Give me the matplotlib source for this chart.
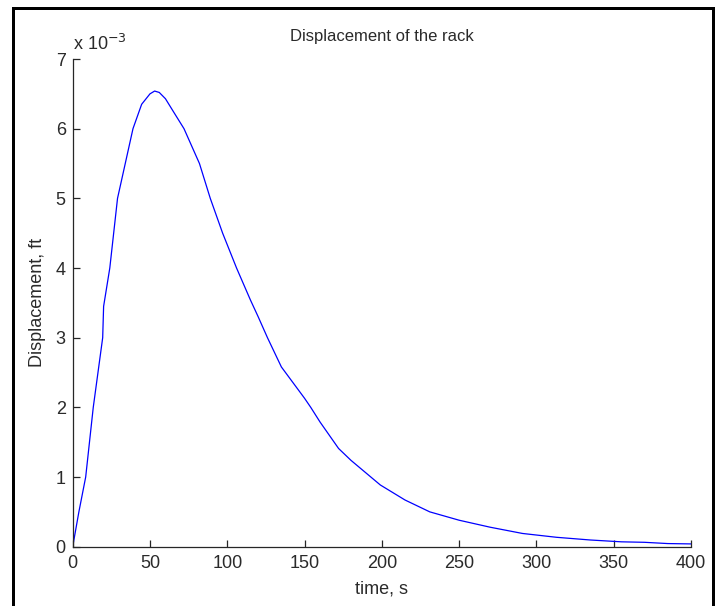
import matplotlib
matplotlib.use("Agg")
import matplotlib.pyplot as plt
from matplotlib.lines import Line2D

# time (s) and displacement (units of 1e-3 ft)
time_s = [0, 4, 8.4, 13.3, 19.4, 20, 24, 29, 34, 39, 44.6, 50, 53, 56, 60, 65,
          72, 82, 89, 97, 106, 115, 120, 126, 135, 150, 154, 160, 172, 180,
          199, 215, 231, 250, 270, 291, 313, 335, 355, 370, 385, 400]
disp_e3 = [0, 0.5, 1.0, 2.0, 3.0, 3.45, 4.0, 5.0, 5.5, 6.0, 6.35, 6.5, 6.54, 6.52,
           6.43, 6.25, 6.0, 5.5, 5.0, 4.5, 4.0, 3.54, 3.3, 3.0, 2.58, 2.13, 2.0,
           1.79, 1.41, 1.24, 0.886, 0.67, 0.5, 0.38, 0.28, 0.19, 0.135, 0.096,
           0.07, 0.063, 0.045, 0.04]

x_ticks = [0, 50, 100, 150, 200, 250, 300, 350, 400]
y_ticks = [0, 1, 2, 3, 4, 5, 6, 7]

FONT = ["Liberation Sans", "DejaVu Sans"]
plt.rcParams["font.family"] = FONT
FS = 13
TXT = "#2a2a2a"

W, H = 718, 606
fig = plt.figure(figsize=(W / 100, H / 100), dpi=100)
fig.patch.set_facecolor("white")

ax = fig.add_axes([72.7 / W, (H - 546.7) / H, (691 - 72.7) / W, (546.7 - 59) / H])
ax.plot(time_s, disp_e3, color="#0000ff", lw=0.9)
ax.set_xlim(0, 400)
ax.set_ylim(0, 7)
ax.set_xticks(x_ticks)
ax.set_yticks(y_ticks)
ax.spines["top"].set_visible(False)
ax.spines["right"].set_visible(False)
for s in ("left", "bottom"):
    ax.spines[s].set_color("#262626")
    ax.spines[s].set_linewidth(0.9)
ax.tick_params(direction="in", length=5, width=0.9, color="#262626",
               labelsize=FS, labelcolor=TXT)
ax.tick_params(axis="x", pad=6)
ax.tick_params(axis="y", pad=5)

ax.set_title("Displacement of the rack", fontsize=12, color=TXT, pad=13)
ax.set_xlabel("time, s", fontsize=FS, color=TXT, labelpad=6)
ax.set_ylabel("Displacement, ft", fontsize=FS, color=TXT, labelpad=7)
ax.text(0, 1.01, r"x 10$^{-3}$", transform=ax.transAxes, fontsize=FS,
        color=TXT, ha="left", va="bottom")

# outer frame of the screenshot
lw_px = 3
for xs, ys in [((12.5, 12.5), (0, H - 8)), ((12.5, 712.5), (H - 8, H - 8)),
               ((712.5, 712.5), (H - 8, 0))]:
    fig.add_artist(Line2D([x / W for x in xs], [y / H for y in ys],
                          transform=fig.transFigure, color="black",
                          lw=lw_px * 72 / 100, solid_capstyle="projecting"))

fig.savefig("out.png", dpi=100)
